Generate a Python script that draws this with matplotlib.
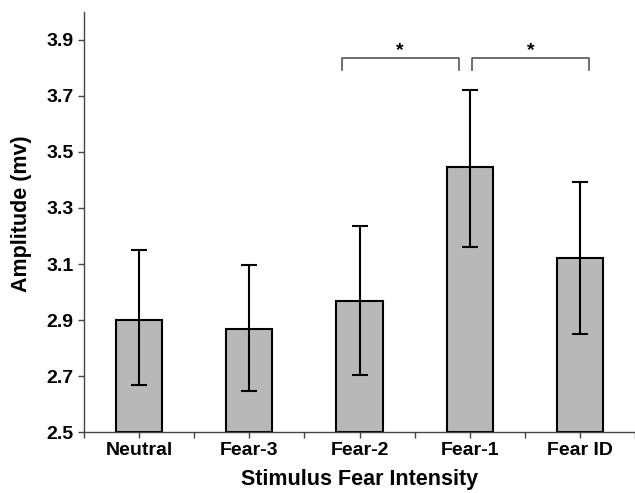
import numpy as np
import matplotlib
matplotlib.use("Agg")
import matplotlib.pyplot as plt

plt.rcParams["font.family"] = ["Liberation Sans", "DejaVu Sans"]
plt.rcParams["font.weight"] = "bold"

# Data
categories = ["Neutral", "Fear-3", "Fear-2", "Fear-1", "Fear ID"]
means = [2.90, 2.868, 2.969, 3.446, 3.121]
upper = [3.15, 3.096, 3.236, 3.721, 3.393]
lower = [2.668, 2.646, 2.705, 3.162, 2.851]
y_ticks = [2.5, 2.7, 2.9, 3.1, 3.3, 3.5, 3.7, 3.9]
# significance brackets: (left x, right x, label)
sig_pairs = [(1.84, 2.90, "*"), (3.02, 4.08, "*")]

fig = plt.figure(figsize=(6.35, 4.93), dpi=100)
ax = fig.add_axes([0.1323, 0.1237, 0.8677, 0.852])

x = np.arange(len(categories))
means = np.array(means)
err = [means - np.array(lower), np.array(upper) - means]

ax.bar(x, means - 2.5, bottom=2.5, width=0.42, color="#b8b8b8",
       edgecolor="black", linewidth=1.5, zorder=2)
ax.errorbar(x, means, yerr=err, fmt="none", ecolor="black",
            elinewidth=1.5, capsize=5.8, capthick=1.5, zorder=3)

# significance brackets
for xl, xr, label in sig_pairs:
  ax.plot([xl, xl, xr, xr], [3.793, 3.835, 3.835, 3.793],
          color="#555555", linewidth=1.2, clip_on=False)
  ax.text((xl + xr) / 2, 3.832, label, ha="center", va="bottom",
          fontsize=14, color="black")

ax.set_xlim(-0.5, 4.5)
ax.set_ylim(2.5, 4.0)
ax.set_yticks(y_ticks)
ax.set_yticklabels([f"{t:.1f}" for t in y_ticks], fontsize=14, fontweight="bold")
ax.set_xticks(x)
ax.set_xticklabels(categories, fontsize=14, fontweight="bold")
ax.set_xticks(np.arange(-0.5, 4.6, 1.0), minor=True)
ax.tick_params(axis="both", which="both", direction="out", length=4,
               width=1, color="#444444")
ax.tick_params(axis="x", which="major", pad=3)

for side in ["top", "right"]:
  ax.spines[side].set_visible(False)
for side in ["left", "bottom"]:
  ax.spines[side].set_color("#444444")
  ax.spines[side].set_linewidth(1.0)

ax.set_xlabel("Stimulus Fear Intensity", fontsize=15.5, fontweight="bold")
ax.set_ylabel("Amplitude (mv)", fontsize=15.5, fontweight="bold")
ax.xaxis.set_label_coords(0.5, -0.088)
ax.yaxis.set_label_coords(-0.095, 0.52)

fig.savefig("out.png", dpi=100)
